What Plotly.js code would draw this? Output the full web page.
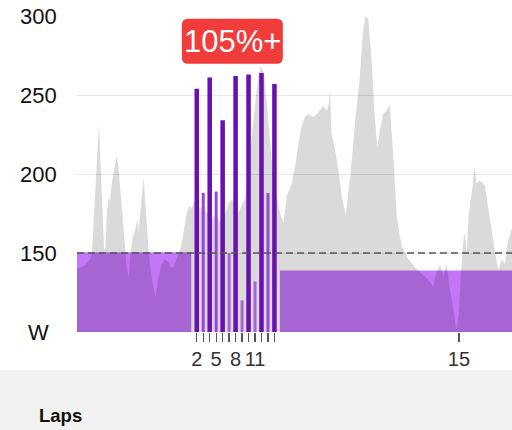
<!DOCTYPE html>
<html>
<head>
<meta charset="utf-8">
<script src="https://cdn.plot.ly/plotly-3.0.1.min.js"></script>
<style>
  html, body { margin: 0; padding: 0; background: #ffffff; }
  #chart { width: 512px; height: 430px; }
</style>
</head>
<body>
<div id="chart"></div>
<script>
// ---- Data (minutes / watts) ----
const lapNumbers = [1, 2, 3, 4, 5, 6, 7, 8, 9, 10, 11, 12, 13, 14, 15];
const lapStart   = [0, 40, 41, 42, 43, 44, 45, 46, 47, 48, 49, 50, 51, 52, 53];
const lapEnd     = [40, 41, 42, 43, 44, 45, 46, 47, 48, 49, 50, 51, 52, 53, 109];
const lapPower   = [150.5, 254, 188, 261, 189, 234, 150, 262, 120, 263, 132, 264, 188, 257, 139];
const lapLabelShown = [2, 5, 8, 11, 15];

const powerTime = [21.5, 22.0, 23.1, 24.0, 24.3, 24.8, 25.1, 25.4, 25.7, 25.9, 26.2, 26.4, 26.6, 26.9, 27.1,
  27.4, 27.7, 28.1, 28.4, 28.6, 28.9, 29.5, 29.7, 30.0, 30.2, 30.6, 31.0, 31.3, 31.5, 31.7, 32.0, 32.3,
  32.5, 32.7, 33.1, 33.3, 33.6, 34.1, 34.6, 35.0, 35.5, 36.2, 36.5, 36.9, 37.4, 38.1, 38.4, 38.7, 39.0,
  39.4, 39.7, 40.0, 40.5, 41.0, 41.5, 42.0, 42.5, 43.0, 43.5, 44.0, 44.5, 45.0, 45.5, 46.0, 46.5, 47.0,
  47.5, 48.0, 48.5, 49.0, 49.5, 50.0, 50.4, 50.8, 51.2, 51.6, 52.0, 52.5, 53.0, 53.4, 53.9, 54.4, 55.2,
  55.7, 56.2, 56.7, 57.2, 57.7, 58.5, 59.3, 60.0, 60.6, 60.9, 61.1, 61.3, 61.9, 62.4, 62.9, 63.5, 64.2,
  64.9, 65.7, 66.2, 66.6, 67.0, 67.5, 68.0, 68.4, 68.8, 69.3, 69.8, 70.3, 70.9, 71.4, 71.9, 72.2, 73.2,
  74.2, 75.2, 76.3, 77.0, 77.5, 78.1, 78.6, 79.1, 79.6, 80.1, 80.6, 81.0, 81.3, 81.7, 81.9, 82.2, 82.5,
  83.1, 83.4, 83.7, 84.2, 85.0, 85.5, 86.1, 86.6, 87.1, 87.6, 88.1, 88.6, 89.2, 89.6];
const powerWatts = [138, 140, 142, 146, 150, 190, 215, 232, 200, 180, 152, 154, 175, 185, 183,
  195, 202, 211, 205, 195, 179, 154, 140, 135, 148, 160, 165, 171, 164, 172, 183, 198,
  185, 171, 150, 142, 133, 122, 135, 142, 146, 144, 141, 141, 146, 154, 162, 169, 176,
  180, 178, 182, 185, 178, 180, 175, 178, 172, 175, 170, 172, 176, 182, 184, 178, 176,
  181, 185, 205, 225, 245, 262, 268, 265, 250, 230, 210, 190, 183, 175, 169, 186, 194,
  205, 219, 230, 236, 238, 236, 239, 243, 240, 245, 253, 226, 215, 202, 186, 174, 198,
  230, 262, 291, 300, 298, 272, 236, 217, 228, 238, 240, 244, 209, 173, 160, 154, 146,
  141, 137, 133, 129, 137, 143, 135, 143, 127, 116, 101, 112, 137, 158, 163, 150, 174,
  192, 205, 194, 196, 193, 179, 163, 150, 139, 146, 143, 158, 166, 170];

const refPower = 150;
const ftp = 222;
const yTickVals = [100, 150, 200, 250, 300];
const yTickText = ['W', '150', '200', '250', '300'];
const badgeText = '105%+';

// ---- Styling helpers ----
function zoneOf(p) {
  const r = p / ftp;
  if (r >= 1.05) return 'hi';
  if (r >= 0.78) return 'mid';
  return 'lo';
}
const zoneColor = { hi: '#6a10b0', mid: '#9a45e0', lo: '#c377f6' };

const laps = lapNumbers.map((n, i) => {
  const dur = lapEnd[i] - lapStart[i];
  const z = zoneOf(lapPower[i]);
  const w = dur >= 2 ? dur - 0.7 : (z === 'hi' ? 0.7 : 0.46);
  return { n, center: (lapStart[i] + lapEnd[i]) / 2, power: lapPower[i], zone: z, width: w };
});

const under = laps.filter(l => l.zone === 'lo');
const over = laps.filter(l => l.zone !== 'lo');

const traces = [
  {
    type: 'bar', x: under.map(l => l.center), y: under.map(l => l.power), width: under.map(l => l.width),
    base: 0, marker: { color: under.map(l => zoneColor[l.zone]), line: { width: 0 } },
    xaxis: 'x', yaxis: 'y', hoverinfo: 'skip'
  },
  {
    type: 'scatter', mode: 'lines', x: powerTime, y: powerWatts, fill: 'tozeroy',
    fillcolor: 'rgba(0,0,0,0.145)', line: { width: 0, color: 'rgba(0,0,0,0)' },
    xaxis: 'x', yaxis: 'y', hoverinfo: 'skip'
  },
  {
    type: 'bar', x: over.map(l => l.center), y: over.map(l => l.power), width: over.map(l => l.width),
    base: 0, marker: { color: over.map(l => zoneColor[l.zone]), line: { width: 0 } },
    xaxis: 'x', yaxis: 'y2', hoverinfo: 'skip'
  }
];

const badgeX = 46.0;
const badgeY = 284;

const fontFam = '"Liberation Sans", Arial, Helvetica, sans-serif';

const annotations = yTickVals.map((v, i) => ({
  xref: 'paper', yref: 'y', x: -0.0885, y: v, text: yTickText[i], showarrow: false,
  xanchor: 'center', yanchor: 'middle', font: { family: fontFam, size: 22, color: '#111' }
}));
annotations.push({
  xref: 'x', yref: 'y', x: badgeX, y: badgeY, text: badgeText, showarrow: false,
  xanchor: 'center', yanchor: 'middle', font: { family: fontFam, size: 31, color: '#ffffff' }
});
annotations.push({
  xref: 'paper', yref: 'paper', x: -0.0920, y: -0.2627, text: '<b>Laps</b>', showarrow: false,
  xanchor: 'left', yanchor: 'middle', font: { family: fontFam, size: 18.5, color: '#111' }
});

const r = 6, hw = 50.5, hh = 22.5;
const badgePath = `M ${-hw + r},${-hh} L ${hw - r},${-hh} Q ${hw},${-hh} ${hw},${-hh + r} L ${hw},${hh - r} Q ${hw},${hh} ${hw - r},${hh} L ${-hw + r},${hh} Q ${-hw},${hh} ${-hw},${hh - r} L ${-hw},${-hh + r} Q ${-hw},${-hh} ${-hw + r},${-hh} Z`;

const shapes = [
  {
    type: 'rect', xref: 'paper', yref: 'paper', x0: -0.2, x1: 1.01, y0: -0.1203, y1: -0.32,
    fillcolor: '#f2f2f1', line: { width: 0 }, layer: 'below'
  },
  {
    type: 'line', xref: 'paper', yref: 'y', x0: 0, x1: 1, y0: refPower, y1: refPower,
    line: { color: '#555555', width: 1.3, dash: '7px,4px' }, layer: 'above'
  },
  {
    type: 'path', xref: 'x', yref: 'y', xsizemode: 'pixel', ysizemode: 'pixel',
    xanchor: badgeX, yanchor: badgeY, path: badgePath,
    fillcolor: '#f13c3c', line: { width: 0 }, layer: 'above'
  }
];

const layout = {
  width: 512, height: 430,
  margin: { l: 77, r: 0, t: 16, b: 98, pad: 0 },
  paper_bgcolor: '#ffffff', plot_bgcolor: 'rgba(0,0,0,0)',
  showlegend: false, barmode: 'overlay',
  font: { family: fontFam },
  xaxis: {
    range: [22, 89.2], showgrid: false, zeroline: false, showline: false,
    tickmode: 'array', tickvals: laps.map(l => l.center),
    ticktext: laps.map(l => lapLabelShown.includes(l.n) ? String(l.n) : ''),
    ticks: 'outside', ticklen: 9, tickwidth: 1.3, tickcolor: '#555555',
    tickfont: { family: fontFam, size: 20, color: '#333333' }
  },
  yaxis: {
    range: [100, 300], tickmode: 'array', tickvals: [150, 200, 250, 300],
    showticklabels: false, showgrid: true, gridcolor: '#e6e6e6', gridwidth: 1,
    zeroline: false, showline: false, ticks: ''
  },
  yaxis2: {
    range: [100, 300], overlaying: 'y', visible: false, showgrid: false, zeroline: false
  },
  annotations, shapes
};

Plotly.newPlot('chart', traces, layout, { staticPlot: true, displayModeBar: false });
</script>
</body>
</html>
